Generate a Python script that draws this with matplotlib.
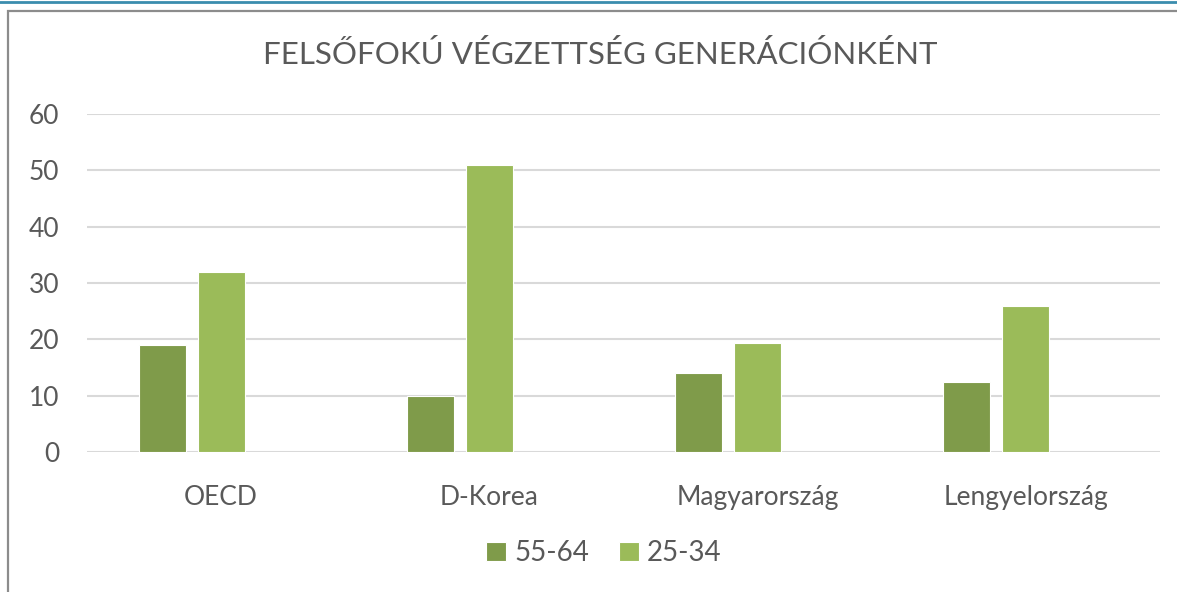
import matplotlib.pyplot as plt
import numpy as np
from matplotlib.patches import Rectangle
from matplotlib.lines import Line2D

orszagok = ['OECD', 'D-Korea', 'Magyarország', 'Lengyelország']
idosebb = [19, 10, 14, 12.5]   # 55-64
fiatal = [32, 51, 19.4, 26]    # 25-34
sorozatok = ['55-64', '25-34']
y_ticks = [0, 10, 20, 30, 40, 50, 60]

szin_sotet = '#7F9B4A'
szin_vilagos = '#9BBB59'
szoveg = '#595959'

plt.rcParams['font.family'] = ['Lato', 'DejaVu Sans']

fig = plt.figure(figsize=(11.77, 5.92), dpi=100)
ax = fig.add_axes([87 / 1177, 1 - 452 / 592, (1160 - 87) / 1177, (452 - 114) / 592])

x = np.arange(len(orszagok))
w = 0.175
# harmadik (ures) sorozat helye miatt a csoport balra tolva
ax.bar(x - 0.22, idosebb, width=w, color=szin_sotet, edgecolor='white', linewidth=0.8, label=sorozatok[0], zorder=3)
ax.bar(x, fiatal, width=w, color=szin_vilagos, edgecolor='white', linewidth=0.8, label=sorozatok[1], zorder=3)

ax.set_xlim(-0.5, len(orszagok) - 0.5)
ax.set_ylim(0, 60)
ax.set_yticks(y_ticks)
ax.set_xticks(x)
ax.set_xticklabels(orszagok)
ax.yaxis.grid(True, color='#D9D9D9', linewidth=1.5, zorder=0)
ax.set_axisbelow(True)
for s in ax.spines.values():
    s.set_visible(False)
ax.tick_params(axis='both', length=0, colors=szoveg, labelsize=19)
ax.tick_params(axis='x', pad=24)
ax.tick_params(axis='y', pad=20)

fig.text(600 / 1177, 1 - 55 / 592, 'FELSŐFOKÚ VÉGZETTSÉG GENERÁCIÓNKÉNT', ha='center', va='center',
         fontsize=22.5, color=szoveg)

leg = fig.legend(loc='center', bbox_to_anchor=(604 / 1177, 1 - 553 / 592), ncol=2, frameon=False,
                 fontsize=20, labelcolor=szoveg, handlelength=0.7, handleheight=0.7,
                 handletextpad=0.3, columnspacing=1.1)

# keret es felso kek vonal
fig.add_artist(Rectangle((7.5 / 1177, -0.05), 1.2, 1 - 11 / 592 + 0.05, transform=fig.transFigure,
                         fill=False, edgecolor='#8C8C8C', linewidth=1.6))
fig.add_artist(Line2D([0, 1], [1 - 2 / 592, 1 - 2 / 592], transform=fig.transFigure,
                      color='#3B8DAE', linewidth=2))

fig.savefig('out.png', dpi=100)
